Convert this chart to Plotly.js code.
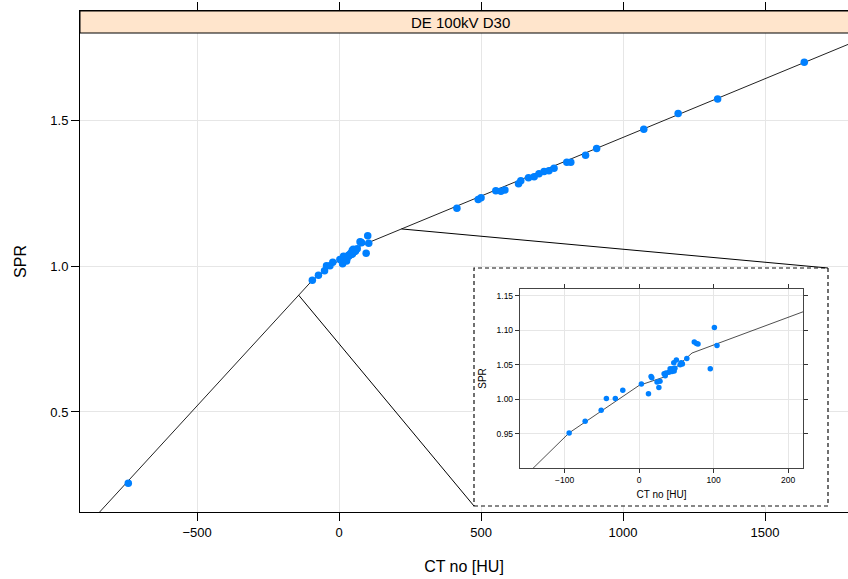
<!DOCTYPE html>
<html>
<head>
<meta charset="utf-8">
<script src="https://cdn.plot.ly/plotly-3.0.1.min.js"></script>
<style>html,body{margin:0;padding:0;background:#fff}#chart{width:848px;height:579px}</style>
</head>
<body>
<div id="chart"></div>
<script>
// ---- data ----
var panelTitle = "DE 100kV D30";
var ctNo = [-742, -94, -72.5, -51, -44, -32, -22, 3, 12.5, 16, 17, 24, 28, 26.5, 33.5, 36, 35, 40, 42.5, 44.7, 41.6, 44, 47, 48, 46.5, 50, 55, 57.3, 56.4, 58, 64, 74, 77, 79, 95.5, 101, 104.5,
  415, 490, 500, 552, 570, 584, 632, 640, 667, 687, 704, 722, 739, 757, 802, 816, 868, 907, 1073, 1194, 1333, 1638];
var spr = [0.256, 0.951, 0.968, 0.984, 1.001, 1.001, 1.013, 1.022, 1.008, 1.033, 1.031, 1.025, 1.026, 1.017, 1.037, 1.038, 1.034, 1.039, 1.042, 1.044, 1.044, 1.040, 1.041, 1.045, 1.053, 1.057, 1.050, 1.052, 1.053, 1.051, 1.059, 1.083, 1.081, 1.080, 1.044, 1.104, 1.078,
  1.198, 1.228, 1.234, 1.258, 1.256, 1.260, 1.282, 1.292, 1.302, 1.306, 1.316, 1.324, 1.326, 1.335, 1.355, 1.355, 1.379, 1.402, 1.468, 1.522, 1.572, 1.698];
// calibration curve knots
var curveCT = [-1000, -94, 0, 36, 71, 1800];
var curveSPR = [-0.009, 0.951, 1.020, 1.033, 1.067, 1.762];
// tick labels
var mainXTicks = [-500, 0, 500, 1000, 1500];
var mainYTicks = [0.5, 1.0, 1.5];
var mainYLabels = ["0.5", "1.0", "1.5"];
var insetXTicks = [-100, 0, 100, 200];
var insetYTicks = [0.95, 1.00, 1.05, 1.10, 1.15];
var insetYLabels = ["0.95", "1.00", "1.05", "1.10", "1.15"];
var xLabel = "CT no [HU]";
var yLabel = "SPR";

// ---- layout geometry ----
var W = 848, H = 579;
var mL = 80, mR = 0, mT = 11, mB = 67;
var mainXRange = [-912, 1792];
var mainYRange = [0.1575, 1.8733];
var insetXRange = [-160, 220];
var insetYRange = [0.9, 1.16];
var plotW = W - mL - mR, plotH = H - mT - mB;
function px2paperX(p) { return (p - mL) / plotW; }
function px2paperY(p) { return (H - mB - p) / plotH; }
function data2paperX(v) { return (v - mainXRange[0]) / (mainXRange[1] - mainXRange[0]); }
function data2paperY(v) { return (v - mainYRange[0]) / (mainYRange[1] - mainYRange[0]); }
function curveAt(x) {
  for (var i = 0; i < curveCT.length - 1; i++) {
    if (x >= curveCT[i] && x <= curveCT[i + 1]) {
      var t = (x - curveCT[i]) / (curveCT[i + 1] - curveCT[i]);
      return curveSPR[i] + t * (curveSPR[i + 1] - curveSPR[i]);
    }
  }
  return NaN;
}
function curveInv(y) {
  for (var i = 0; i < curveSPR.length - 1; i++) {
    if (y >= curveSPR[i] && y <= curveSPR[i + 1]) {
      var t = (y - curveSPR[i]) / (curveSPR[i + 1] - curveSPR[i]);
      return curveCT[i] + t * (curveCT[i + 1] - curveCT[i]);
    }
  }
  return NaN;
}

var boxX = [px2paperX(474), px2paperX(828)];
var boxY = [px2paperY(506), px2paperY(268)];
var insX = [px2paperX(520), px2paperX(803)];
var insY = [px2paperY(468), px2paperY(289)];
var stripBottom = px2paperY(33);

var font = "Liberation Sans, Arial, sans-serif";
var ptColor = "#0080FF";
var gridC = "#e6e6e6";

var traces = [
  {x: curveCT, y: curveSPR, mode: "lines", line: {color: "#222", width: 1}, xaxis: "x", yaxis: "y", hoverinfo: "skip", showlegend: false},
  {x: ctNo, y: spr, mode: "markers", marker: {color: ptColor, size: 7.5}, xaxis: "x", yaxis: "y", showlegend: false},
  {x: [], y: [], mode: "markers", xaxis: "x2", yaxis: "y2", showlegend: false, hoverinfo: "skip"},
  {x: curveCT, y: curveSPR, mode: "lines", line: {color: "#222", width: 0.8}, xaxis: "x3", yaxis: "y3", hoverinfo: "skip", showlegend: false},
  {x: ctNo, y: spr, mode: "markers", marker: {color: ptColor, size: 5.5}, xaxis: "x3", yaxis: "y3", showlegend: false}
];

var topX = insetXRange[1], topY = curveAt(topX);
var botY = insetYRange[0], botX = curveInv(botY);

var layout = {
  width: W, height: H,
  margin: {l: mL, r: mR, t: mT, b: mB, pad: 0},
  paper_bgcolor: "#fff", plot_bgcolor: "#fff",
  font: {family: font, color: "#000"},
  showlegend: false,
  xaxis: {
    domain: [0, 1], range: mainXRange, tickvals: mainXTicks,
    ticks: "outside", ticklen: 8, tickwidth: 1, tickcolor: "#000",
    showline: true, linecolor: "#000", linewidth: 1, mirror: "ticks",
    showgrid: true, gridcolor: gridC, zeroline: false,
    tickfont: {size: 13, family: font, color: "#000"},
    title: {text: xLabel, font: {size: 16, family: font, color: "#000"}, standoff: 22},
    anchor: "y"
  },
  yaxis: {
    domain: [0, 1], range: mainYRange, tickvals: mainYTicks, ticktext: mainYLabels,
    ticks: "outside", ticklen: 8, tickwidth: 1, tickcolor: "#000",
    showline: true, linecolor: "#000", linewidth: 1, mirror: false,
    showgrid: true, gridcolor: gridC, zeroline: false,
    tickfont: {size: 13, family: font, color: "#000"},
    title: {text: yLabel, font: {size: 16, family: font, color: "#000"}, standoff: 19},
    anchor: "x"
  },
  xaxis2: {domain: boxX, anchor: "y2", visible: false, range: [0, 1], fixedrange: true},
  yaxis2: {domain: boxY, anchor: "x2", visible: false, range: [0, 1], fixedrange: true},
  xaxis3: {
    domain: insX, anchor: "y3", range: insetXRange, tickvals: insetXTicks,
    ticks: "outside", ticklen: 4, tickwidth: 1, tickcolor: "#333",
    showline: true, linecolor: "#444", linewidth: 1.2, mirror: "ticks",
    showgrid: true, gridcolor: gridC, zeroline: false,
    tickfont: {size: 8.5, family: font, color: "#000"},
    title: {text: xLabel, font: {size: 10, family: font, color: "#000"}, standoff: 6}
  },
  yaxis3: {
    domain: insY, anchor: "x3", range: insetYRange, tickvals: insetYTicks, ticktext: insetYLabels,
    ticks: "outside", ticklen: 4, tickwidth: 1, tickcolor: "#333",
    showline: true, linecolor: "#444", linewidth: 1.2, mirror: "ticks",
    showgrid: true, gridcolor: gridC, zeroline: false,
    tickfont: {size: 8.5, family: font, color: "#000"},
    title: {text: yLabel, font: {size: 10, family: font, color: "#000"}, standoff: 8}
  },
  shapes: [
    {type: "rect", xref: "paper", yref: "paper", x0: 0, x1: 1.02, y0: stripBottom, y1: 1,
     fillcolor: "#FFE5CC", line: {color: "#000", width: 1}, layer: "above"},
    {type: "rect", xref: "paper", yref: "paper", x0: boxX[0], x1: boxX[1], y0: boxY[0], y1: boxY[1],
     line: {color: "#111", width: 1.2, dash: "4px,3px"}, layer: "above"},
    {type: "line", xref: "paper", yref: "paper", x0: data2paperX(topX), y0: data2paperY(topY), x1: boxX[1], y1: boxY[1],
     line: {color: "#000", width: 1}, layer: "above"},
    {type: "line", xref: "paper", yref: "paper", x0: data2paperX(botX), y0: data2paperY(botY), x1: boxX[0], y1: boxY[0],
     line: {color: "#000", width: 1}, layer: "above"}
  ],
  annotations: [
    {text: panelTitle, xref: "paper", yref: "paper", x: px2paperX(460), y: (stripBottom + 1) / 2,
     xanchor: "center", yanchor: "middle", showarrow: false, font: {size: 15, family: font, color: "#000"}}
  ]
};

Plotly.newPlot("chart", traces, layout, {staticPlot: true, displayModeBar: false});
</script>
</body>
</html>
